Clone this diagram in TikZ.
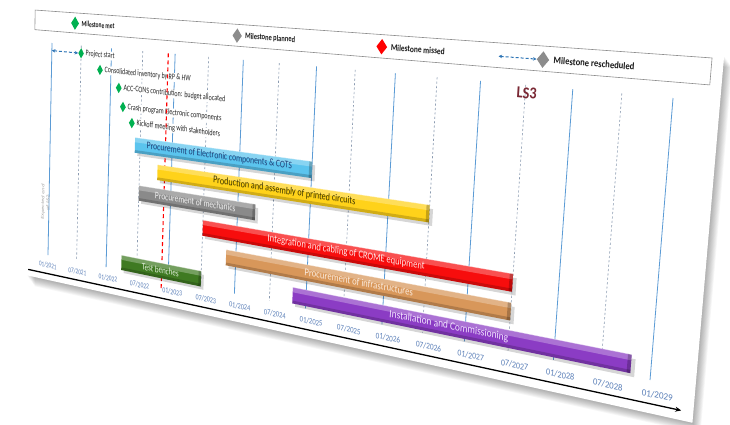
\documentclass[tikz,border=0pt]{standalone}
\usepackage{fontspec}
\setmainfont{Carlito}
\usetikzlibrary{shapes.geometric,arrows.meta}

% ---------- colours ----------
\definecolor{gridblue}{HTML}{5B9BD5}
\definecolor{gridgray}{HTML}{8A9AB0}
\definecolor{datecol}{HTML}{5A7FB8}
\definecolor{msgreen}{HTML}{00B050}
\definecolor{msgray}{HTML}{8C8C8C}
\definecolor{msred}{HTML}{FF0000}
\definecolor{reschedblue}{HTML}{2E75B6}
\definecolor{lsred}{HTML}{7A2834}
\definecolor{barblue}{HTML}{5BC4EE}\definecolor{txtblue}{HTML}{1F3F77}
\definecolor{baryellow}{HTML}{FFD21A}\definecolor{txtyellow}{HTML}{3A3300}
\definecolor{bargray}{HTML}{8A8A8A}\definecolor{txtgray}{HTML}{F2F2F2}
\definecolor{barred}{HTML}{F70D0D}\definecolor{txtred}{HTML}{FFE8E8}
\definecolor{barorange}{HTML}{D8975A}\definecolor{txtorange}{HTML}{FBEBDD}
\definecolor{barpurple}{HTML}{8B3CC4}\definecolor{txtpurple}{HTML}{F3E6FF}
\definecolor{bargreen}{HTML}{3F7A22}\definecolor{txtgreen}{HTML}{E6F2E0}

% ---------- projective map of the tilted sheet ----------
% sheet coordinates: m = months after 01/2021 (0..96), t = 0 at top of grid, 1 at its foot
% corner images in hundreds of points (y downwards)
\def\qxA{0.52}\def\qyA{0.43}
\def\qxB{6.73}\def\qyB{0.98}
\def\qxC{6.50}\def\qyC{3.80}
\def\qxD{0.48}\def\qyD{2.55}
\pgfmathsetmacro\dxa{\qxB-\qxC}
\pgfmathsetmacro\dya{\qyB-\qyC}
\pgfmathsetmacro\dxb{\qxD-\qxC}
\pgfmathsetmacro\dyb{\qyD-\qyC}
\pgfmathsetmacro\dxc{\qxA-\qxB+\qxC-\qxD}
\pgfmathsetmacro\dyc{\qyA-\qyB+\qyC-\qyD}
\pgfmathsetmacro\hmDen{\dxa*\dyb-\dxb*\dya}
\pgfmathsetmacro\hmG{(\dxc*\dyb-\dxb*\dyc)/\hmDen}
\pgfmathsetmacro\hmH{(\dxa*\dyc-\dxc*\dya)/\hmDen}
\pgfmathsetmacro\hmA{\qxB-\qxA+\hmG*\qxB}
\pgfmathsetmacro\hmB{\qxD-\qxA+\hmH*\qxD}
\pgfmathsetmacro\hmD{\qyB-\qyA+\hmG*\qyB}
\pgfmathsetmacro\hmE{\qyD-\qyA+\hmH*\qyD}
\def\hmC{\qxA}\def\hmF{\qyA}
% flat size of the sheet in points (for lettering)
\def\Wf{720}\def\Hf{230}

\makeatletter
\def\pg@split#1/#2\pg@end{\def\pg@m{#1}\def\pg@t{#2}}
\tikzdeclarecoordinatesystem{pg}{%
  \pg@split#1\pg@end
  \pgfmathsetmacro\pg@s{(\pg@m)/96}%
  \pgfmathsetmacro\pg@tt{\pg@t}%
  \pgfmathsetmacro\pg@w{\hmG*\pg@s+\hmH*\pg@tt+1}%
  \pgfmathsetmacro\pg@x{100*(\hmA*\pg@s+\hmB*\pg@tt+\hmC)/\pg@w}%
  \pgfmathsetmacro\pg@y{-100*(\hmD*\pg@s+\hmE*\pg@tt+\hmF)/\pg@w}%
  \pgf@x=\pg@x pt\relax\pgf@y=\pg@y pt\relax
}
\makeatother

% local frame on the sheet at (m,t): one unit = one flat point
\newcommand\onsheet[3]{%
  \pgfmathsetmacro\osS{(#1)/96}%
  \pgfmathsetmacro\osT{#2}%
  \pgfmathsetmacro\osW{\hmG*\osS+\hmH*\osT+1}%
  \pgfmathsetmacro\osX{(\hmA*\osS+\hmB*\osT+\hmC)/\osW}%
  \pgfmathsetmacro\osY{(\hmD*\osS+\hmE*\osT+\hmF)/\osW}%
  \pgfmathsetmacro\osa{100*(\hmA-\osX*\hmG)/\osW/\Wf}%
  \pgfmathsetmacro\osb{-100*(\hmD-\osY*\hmG)/\osW/\Wf}%
  \pgfmathsetmacro\osc{-100*(\hmB-\osX*\hmH)/\osW/\Hf}%
  \pgfmathsetmacro\osd{100*(\hmE-\osY*\hmH)/\osW/\Hf}%
  \pgfmathsetmacro\osPx{100*\osX}%
  \pgfmathsetmacro\osPy{-100*\osY}%
  \begin{scope}[cm={\osa,\osb,\osc,\osd,(\osPx pt,\osPy pt)}]#3\end{scope}%
}

\tikzset{
  flat/.style={transform shape},
  janline/.style={draw=gridblue,line width=0.8pt},
  julline/.style={draw=gridgray,line width=0.6pt,dash pattern=on 2.2pt off 2.2pt},
  datelabel/.style={flat,text=datecol,font=\fontsize{8}{9}\selectfont,inner sep=0pt},
  legendframe/.style={draw=black!45,line width=0.6pt},
  lgdiamond/.style={flat,shape=diamond,draw=none,inner sep=0pt,minimum width=12pt,minimum height=14pt},
  msdiamond/.style={flat,shape=diamond,draw=none,fill=msgreen,inner sep=0pt,minimum width=8.5pt,minimum height=11pt},
  lgtext/.style={flat,anchor=west,font=\bfseries\fontsize{8.2}{9}\selectfont,text=black!90,inner sep=0pt},
  mstext/.style={flat,anchor=west,font=\fontsize{8.8}{10}\selectfont,text=black!85,fill=white,inner sep=0.8pt},
  barlabel/.style={flat,font=\fontsize{10}{12}\selectfont,inner sep=0pt},
  resched/.style={draw=reschedblue,line width=1pt,dash pattern=on 3pt off 2pt,
    {Stealth[length=3.5pt,width=3.5pt]}-{Stealth[length=3.5pt,width=3.5pt]}},
  missline/.style={draw=msred,line width=1.1pt,dash pattern=on 4pt off 3pt},
  timeaxis/.style={draw=black,line width=1.3pt,-{Stealth[length=6pt,width=5pt]}},
  lslabel/.style={flat,font=\bfseries\fontsize{14}{15}\selectfont,text=lsred,inner sep=0pt},
  faintnote/.style={flat,font=\fontsize{7}{8}\selectfont,text=black!35,inner sep=0pt,align=center},
}

% a bevelled bar: name, start month, end month, row, colour, text colour, label
\newcommand\ganttbar[7]{%
  \pgfmathsetmacro\gbTop{#4-0.034}\pgfmathsetmacro\gbBot{#4+0.034}%
  \pgfmathsetmacro\gbHi{#4-0.013}\pgfmathsetmacro\gbLo{#4+0.022}%
  \pgfmathsetmacro\gbSA{#2+0.5}\pgfmathsetmacro\gbSB{#3+0.5}%
  \pgfmathsetmacro\gbSt{#4-0.020}\pgfmathsetmacro\gbSb{#4+0.046}%
  \pgfmathsetmacro\gbCap{#3-0.45}\pgfmathsetmacro\gbMid{(#2+#3)/2}%
  \pgfmathsetmacro\gbTxt{#4-0.003}%
  \fill[black,opacity=.16] (pg cs:\gbSA/\gbSt) -- (pg cs:\gbSB/\gbSt) -- (pg cs:\gbSB/\gbSb) -- (pg cs:\gbSA/\gbSb) -- cycle;
  \fill[#5] (pg cs:#2/\gbTop) -- (pg cs:#3/\gbTop) -- (pg cs:#3/\gbBot) -- (pg cs:#2/\gbBot) -- cycle;
  \fill[white,opacity=.28] (pg cs:#2/\gbTop) -- (pg cs:#3/\gbTop) -- (pg cs:#3/\gbHi) -- (pg cs:#2/\gbHi) -- cycle;
  \fill[black,opacity=.18] (pg cs:#2/\gbLo) -- (pg cs:#3/\gbLo) -- (pg cs:#3/\gbBot) -- (pg cs:#2/\gbBot) -- cycle;
  \fill[black,opacity=.22] (pg cs:\gbCap/\gbTop) -- (pg cs:#3/\gbTop) -- (pg cs:#3/\gbBot) -- (pg cs:\gbCap/\gbBot) -- cycle;
  \draw[white,opacity=.5,line width=0.5pt] (pg cs:#2/\gbTop) -- (pg cs:#3/\gbTop);
  \onsheet{\gbMid}{\gbTxt}{\node[barlabel,text=#6] (#1) {#7};}%
}

\begin{document}
\begin{tikzpicture}
\useasboundingbox (0,0) rectangle (730pt,-424pt);

% sheet shadow and sheet
\foreach \k in {1,...,10}{%
  \fill[black,opacity=0.035,shift={({0.8*\k pt},{-1.1*\k pt})}]
    (pg cs:-4.5/-0.155) -- (pg cs:101.3/-0.155) -- (pg cs:101.3/1.12) -- (pg cs:-4.5/1.12) -- cycle;
}
\fill[white] (pg cs:-4.5/-0.155) -- (pg cs:101.3/-0.155) -- (pg cs:101.3/1.12) -- (pg cs:-4.5/1.12) -- cycle;

% legend
\draw[legendframe] (pg cs:-3.65/-0.146) -- (pg cs:100/-0.146) -- (pg cs:100/-0.055) -- (pg cs:-3.65/-0.055) -- cycle;
\onsheet{4.65}{-0.099}{\node[lgdiamond,fill=msgreen] (lgmet) {}; \node[lgtext] (lgmettxt) at (10pt,0) {Milestone met};}
\onsheet{34.8}{-0.099}{\node[lgdiamond,fill=msgray] (lgplan) {}; \node[lgtext] (lgplantxt) at (10pt,0) {Milestone planned};}
\onsheet{57.8}{-0.099}{\node[lgdiamond,fill=msred] (lgmiss) {}; \node[lgtext] (lgmisstxt) at (10pt,0) {Milestone missed};}
\onsheet{80}{-0.097}{\node[lgdiamond,fill=msgray] (lgres) {}; \node[lgtext] (lgrestxt) at (10pt,0) {Milestone rescheduled};}
\coordinate (lgres0) at (pg cs:74.2/-0.097);
\draw[resched] (lgres0) -- (lgres.west);

% time grid: January solid, July dashed
\foreach \k in {0,...,16}{%
  \pgfmathsetmacro\gridm{6*\k}%
  \ifodd\k
    \draw[julline] (pg cs:\gridm/0) -- (pg cs:\gridm/1);
  \else
    \draw[janline] (pg cs:\gridm/0) -- (pg cs:\gridm/1);
  \fi
}

% note along the first grid line
\onsheet{-0.8}{0.75}{\node[faintnote,rotate=90] (lsnote) {Expected end\\of LS2};}

% date labels
\foreach \k in {0,...,16}{%
  \pgfmathtruncatemacro\dyr{2021+floor(\k/2)}%
  \ifodd\k\def\dmon{07}\else\def\dmon{01}\fi
  \pgfmathsetmacro\dlm{6*\k+min(1,0.035*6*\k)}%
  \onsheet{\dlm}{1.05}{\node[datelabel] (date\k) {\dmon/\dyr};}
}

% LS3
\onsheet{78.2}{0.03}{\node[lslabel] (ls3) {LS3};}

% milestones
\onsheet{6}{0.035}{\node[msdiamond] (mstart) {}; \node[mstext] (mstarttxt) at (6pt,0) {Project start};}
\onsheet{9.84}{0.102}{\node[msdiamond] (minv) {}; \node[mstext] (minvtxt) at (6pt,0) {Consolidated inventory by RP \& HW};}
\onsheet{13.6}{0.174}{\node[msdiamond] (macc) {}; \node[mstext] (macctxt) at (6pt,0) {ACC-CONS contribution: budget allocated};}
\onsheet{14.5}{0.257}{\node[msdiamond] (mcrash) {}; \node[mstext] (mcrashtxt) at (6pt,0) {Crash program Electronic components};}
\onsheet{16.3}{0.324}{\node[msdiamond] (mkick) {}; \node[mstext] (mkicktxt) at (6pt,0) {Kickoff meeting with stakeholders};}
\coordinate (mstart0) at (pg cs:0/0.035);
\draw[resched] (mstart0) -- (mstart.west);

% today marker
\coordinate (today0) at (pg cs:22.75/0);
\coordinate (today1) at (pg cs:22.75/1.05);
\draw[missline] (today0) -- (today1);

% activities
\ganttbar{bElec}{17}{48}{0.421}{barblue}{txtblue}{Procurement of Electronic components \& COTS}
\ganttbar{bProd}{21.4}{66}{0.528}{baryellow}{txtyellow}{Production and assembly of printed circuits}
\ganttbar{bMech}{18}{39}{0.634}{bargray}{txtgray}{Procurement of mechanics}
\ganttbar{bInt}{30}{78}{0.740}{barred}{txtred}{Integration and cabling of CROME equipment}
\ganttbar{bInfra}{34.3}{78}{0.850}{barorange}{txtorange}{Procurement of infrastructures}
\ganttbar{bInst}{45.8}{93.6}{0.956}{barpurple}{txtpurple}{Installation and Commissioning}
\ganttbar{bTest}{15}{30}{0.965}{bargreen}{txtgreen}{Test benches}

% time axis
\coordinate (ax0) at (pg cs:-4.2/1.09);
\coordinate (ax1) at (pg cs:99.9/1.085);
\draw[timeaxis] (ax0) -- (ax1);
\end{tikzpicture}
\end{document}
